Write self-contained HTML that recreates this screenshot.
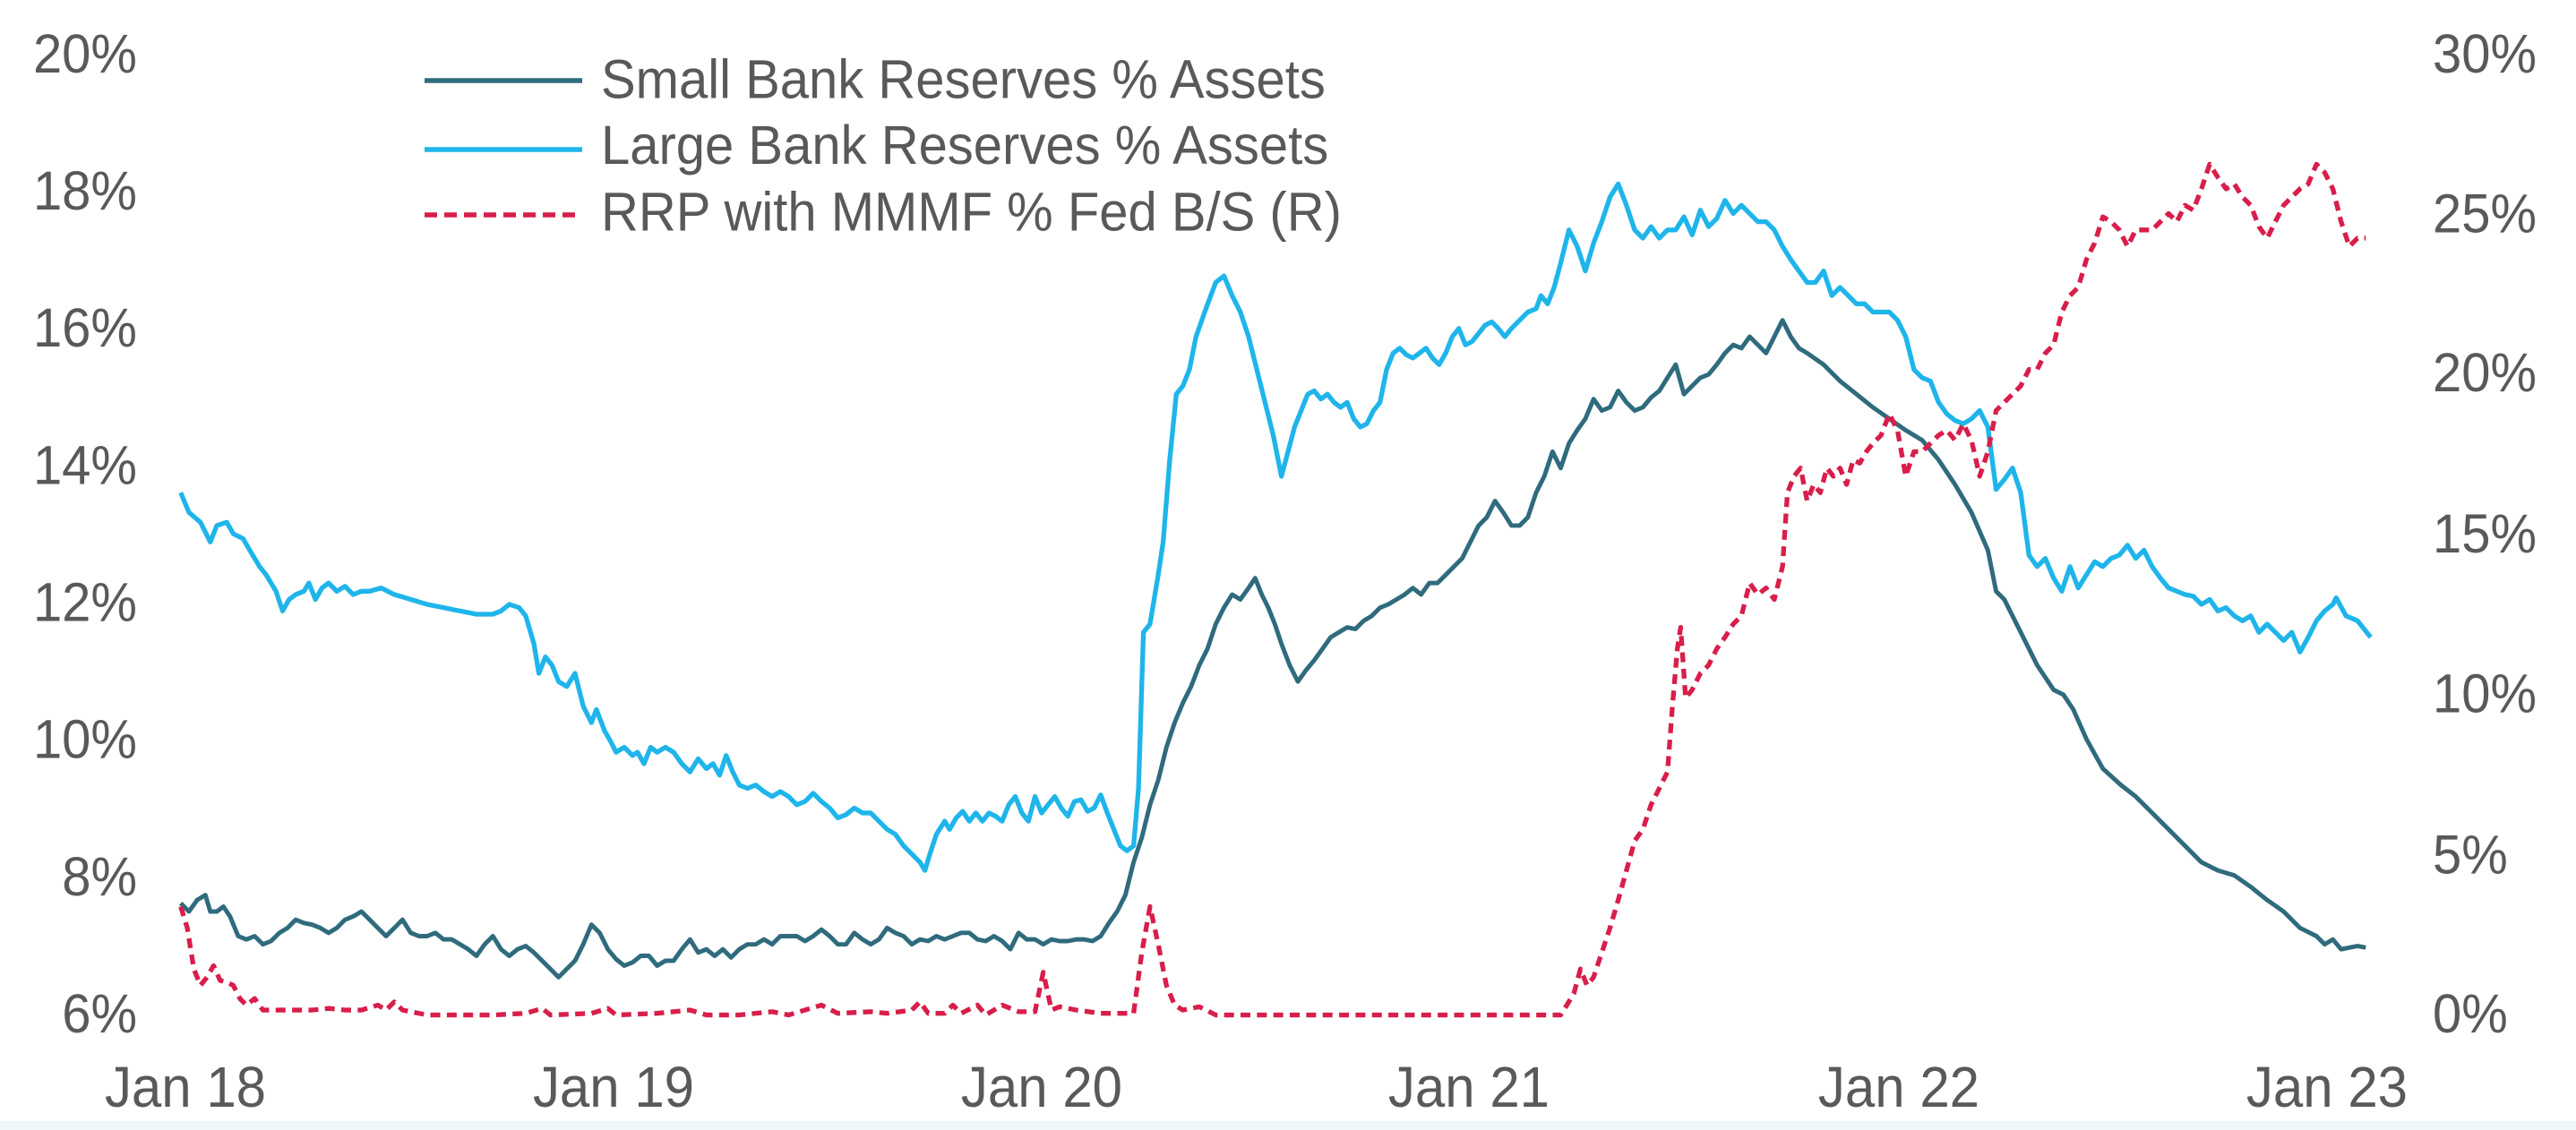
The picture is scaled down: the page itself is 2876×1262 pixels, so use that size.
<!DOCTYPE html>
<html><head><meta charset="utf-8"><style>
html,body{margin:0;padding:0;background:#fff;}
body{width:2876px;height:1262px;overflow:hidden;position:relative;}
svg{position:absolute;left:0;top:0;}
text{font-family:"Liberation Sans",Arial,sans-serif;fill:#595959;}
</style></head><body>
<svg width="2876" height="1262" viewBox="0 0 2876 1262" xmlns="http://www.w3.org/2000/svg">
<rect x="0" y="1252" width="2876" height="10" fill="#eef8fb"/>
<g font-size="58" text-anchor="end">
<text x="153" y="81" transform="translate(0,-5) scale(1,1.06)">20%</text>
<text x="153" y="234" transform="translate(0,-14) scale(1,1.06)">18%</text>
<text x="153" y="387" transform="translate(0,-23) scale(1,1.06)">16%</text>
<text x="153" y="540" transform="translate(0,-32) scale(1,1.06)">14%</text>
<text x="153" y="693" transform="translate(0,-41) scale(1,1.06)">12%</text>
<text x="153" y="846" transform="translate(0,-50) scale(1,1.06)">10%</text>
<text x="153" y="999" transform="translate(0,-59) scale(1,1.06)">8%</text>
<text x="153" y="1152" transform="translate(0,-68) scale(1,1.06)">6%</text>
</g>
<g font-size="58">
<text x="2716" y="81" transform="translate(0,-5) scale(1,1.06)">30%</text>
<text x="2716" y="259" transform="translate(0,-15) scale(1,1.06)">25%</text>
<text x="2716" y="437" transform="translate(0,-26) scale(1,1.06)">20%</text>
<text x="2716" y="616" transform="translate(0,-36) scale(1,1.06)">15%</text>
<text x="2716" y="795" transform="translate(0,-47) scale(1,1.06)">10%</text>
<text x="2716" y="974" transform="translate(0,-57) scale(1,1.06)">5%</text>
<text x="2716" y="1152" transform="translate(0,-68) scale(1,1.06)">0%</text>
</g>
<g font-size="60" text-anchor="middle">
<text x="207" y="1235" transform="translate(0,-73) scale(1,1.06)">Jan 18</text>
<text x="685" y="1235" transform="translate(0,-73) scale(1,1.06)">Jan 19</text>
<text x="1163" y="1235" transform="translate(0,-73) scale(1,1.06)">Jan 20</text>
<text x="1640" y="1235" transform="translate(0,-73) scale(1,1.06)">Jan 21</text>
<text x="2120" y="1235" transform="translate(0,-73) scale(1,1.06)">Jan 22</text>
<text x="2598" y="1235" transform="translate(0,-73) scale(1,1.06)">Jan 23</text>
</g>
<g font-size="58">
<text x="671" y="109" transform="translate(0,-6) scale(1,1.06)">Small Bank Reserves % Assets</text>
<text x="671" y="183" transform="translate(0,-11) scale(1,1.06)">Large Bank Reserves % Assets</text>
<text x="671" y="257" transform="translate(0,-15) scale(1,1.06)">RRP with MMMF % Fed B/S (R)</text>
</g>
<line x1="474" y1="90" x2="650" y2="90" stroke="#2f6b7d" stroke-width="5.5"/>
<line x1="474" y1="167" x2="650" y2="167" stroke="#1fb5ea" stroke-width="5.5"/>
<line x1="474" y1="240" x2="650" y2="240" stroke="#d81e4a" stroke-width="5.5" stroke-dasharray="14 8"/>
<g transform="scale(1.8342)" fill="none" stroke-linejoin="round">
<polyline id="lb" stroke="#1fb5ea" stroke-width="2.9"/>
<polyline id="sb" stroke="#2f6b7d" stroke-width="2.7"/>
<polyline id="rr" stroke="#d81e4a" stroke-width="2.9" stroke-dasharray="6 4"/>
</g>
</svg>
<script>
var LB=[[110,300],[115,312],[122,318],[128,330],[132,320],[138,318],[142,325],[148,328],[152,335],[158,345],[162,350],[168,360],[172,372],[176,365],[180,362],[185,360],[188,355],[192,365],[196,358],[200,355],[205,360],[210,357],[215,362],[220,360],[225,360],[232,358],[240,362],[250,365],[260,368],[270,370],[280,372],[290,374],[300,374],[305,372],[310,368],[316,370],[320,375],[325,392],[328,410],[332,400],[336,405],[340,415],[345,418],[350,410],[355,430],[360,440],[363,432],[368,445],[372,452],[375,458],[380,455],[385,460],[388,458],[392,465],[396,455],[400,458],[405,455],[410,458],[415,465],[420,470],[425,462],[430,468],[434,465],[438,472],[442,460],[446,470],[450,478],[455,480],[460,478],[465,482],[470,485],[475,482],[480,485],[485,490],[490,488],[495,483],[500,488],[505,492],[510,498],[515,496],[520,492],[525,495],[530,495],[535,500],[540,505],[545,508],[550,515],[555,520],[560,525],[563,530],[566,520],[570,508],[575,500],[578,505],[582,498],[586,494],[590,500],[594,495],[598,500],[602,495],[606,497],[610,500],[614,490],[618,485],[622,495],[626,500],[630,485],[634,495],[638,490],[642,485],[646,492],[650,497],[654,488],[658,487],[662,494],[666,492],[670,484],[674,495],[678,505],[682,515],[686,518],[690,515],[693,480],[696,385],[700,380],[705,350],[708,330],[712,280],[716,240],[720,235],[724,225],[728,205],[734,188],[740,172],[745,168],[750,180],[755,190],[760,205],[765,225],[770,245],[775,265],[780,290],[784,275],[788,260],[792,250],[796,240],[800,238],[804,243],[808,240],[812,245],[816,248],[820,245],[824,255],[828,260],[832,258],[836,250],[840,245],[844,225],[848,215],[852,212],[856,216],[860,218],[864,215],[868,212],[872,218],[876,222],[880,215],[884,205],[888,200],[892,210],[896,208],[900,203],[904,198],[908,196],[912,200],[916,205],[920,200],[925,195],[930,190],[935,188],[938,180],[942,185],[946,175],[950,160],[955,140],[960,150],[965,165],[970,148],[975,135],[980,120],[985,112],[990,125],[995,140],[1000,145],[1005,138],[1010,145],[1015,140],[1020,140],[1025,132],[1030,143],[1035,128],[1040,138],[1045,133],[1050,122],[1055,130],[1060,125],[1065,130],[1070,135],[1075,135],[1080,140],[1085,150],[1090,158],[1095,165],[1100,172],[1105,172],[1110,165],[1115,180],[1120,175],[1125,180],[1130,185],[1135,185],[1140,190],[1150,190],[1155,195],[1160,205],[1165,225],[1170,230],[1175,232],[1180,245],[1185,252],[1190,256],[1195,258],[1200,255],[1205,250],[1210,260],[1215,298],[1220,292],[1225,285],[1230,300],[1235,338],[1240,345],[1245,340],[1250,352],[1255,360],[1260,345],[1265,358],[1270,350],[1275,342],[1280,345],[1285,340],[1290,338],[1295,332],[1300,340],[1305,335],[1310,345],[1315,352],[1320,358],[1325,360],[1330,362],[1335,363],[1340,368],[1345,365],[1350,372],[1355,370],[1360,375],[1365,378],[1370,375],[1375,385],[1380,380],[1385,385],[1390,390],[1395,385],[1400,397],[1405,388],[1410,378],[1415,372],[1420,368],[1422,364],[1428,375],[1435,378],[1443,388]];
var SB=[[110,550],[115,555],[120,548],[125,545],[128,555],[132,555],[136,552],[140,558],[145,570],[150,572],[155,570],[160,575],[165,573],[170,568],[175,565],[180,560],[185,562],[190,563],[195,565],[200,568],[205,565],[210,560],[215,558],[220,555],[225,560],[230,565],[235,570],[240,565],[245,560],[250,568],[255,570],[260,570],[265,568],[270,572],[275,572],[280,575],[285,578],[290,582],[295,575],[300,570],[305,578],[310,582],[315,578],[320,576],[325,580],[330,585],[335,590],[340,595],[345,590],[350,585],[355,575],[360,563],[365,568],[370,578],[375,584],[380,588],[385,586],[390,582],[395,582],[400,588],[405,585],[410,585],[415,578],[420,572],[425,580],[430,578],[435,582],[440,578],[445,583],[450,578],[455,575],[460,575],[465,572],[470,575],[475,570],[480,570],[485,570],[490,573],[495,570],[500,566],[505,570],[510,575],[515,575],[520,568],[525,572],[530,575],[535,572],[540,565],[545,568],[550,570],[555,575],[560,572],[565,573],[570,570],[575,572],[580,570],[585,568],[590,568],[595,572],[600,573],[605,570],[610,573],[615,578],[620,568],[625,572],[630,572],[635,575],[640,572],[645,573],[650,573],[655,572],[660,572],[665,573],[670,570],[675,562],[680,555],[685,545],[690,525],[695,510],[700,490],[705,475],[710,455],[715,440],[720,428],[725,418],[730,405],[735,395],[740,380],[745,370],[750,362],[755,365],[760,358],[764,352],[768,362],[772,370],[776,380],[780,392],[785,405],[790,415],[795,408],[800,402],[805,395],[810,388],[815,385],[820,382],[825,383],[830,378],[835,375],[840,370],[845,368],[850,365],[855,362],[860,358],[865,362],[870,355],[875,355],[880,350],[885,345],[890,340],[895,330],[900,320],[905,315],[910,305],[915,312],[920,320],[925,320],[930,315],[935,300],[940,290],[945,275],[950,285],[955,270],[960,262],[965,255],[970,243],[975,250],[980,248],[985,238],[990,245],[995,250],[1000,248],[1005,242],[1010,238],[1015,230],[1020,222],[1025,240],[1030,235],[1035,230],[1040,228],[1045,222],[1050,215],[1055,210],[1060,212],[1065,205],[1070,210],[1075,215],[1080,205],[1085,195],[1090,205],[1095,212],[1100,215],[1110,222],[1120,232],[1130,240],[1140,248],[1150,255],[1160,262],[1170,268],[1180,280],[1190,295],[1200,312],[1210,335],[1215,360],[1220,365],[1230,385],[1240,405],[1250,420],[1256,423],[1262,432],[1270,450],[1280,468],[1291,478],[1300,485],[1310,495],[1320,505],[1330,515],[1340,525],[1350,530],[1360,533],[1370,540],[1380,548],[1390,555],[1400,565],[1410,570],[1415,575],[1420,572],[1425,578],[1430,577],[1435,576],[1440,577]];
var RR=[[110,552],[114,565],[118,590],[122,600],[126,595],[130,588],[134,597],[138,598],[142,600],[146,608],[150,612],[155,608],[160,615],[170,615],[180,615],[190,615],[200,614],[210,615],[220,615],[230,612],[235,615],[240,610],[245,615],[260,618],[280,618],[300,618],[320,617],[330,614],[335,618],[360,617],[370,614],[375,618],[400,617],[420,615],[430,618],[450,618],[470,616],[480,618],[500,612],[510,617],[530,616],[540,617],[555,615],[560,610],[565,617],[575,617],[580,612],[585,617],[595,612],[600,618],[610,612],[620,616],[630,616],[635,592],[640,615],[645,613],[655,615],[670,617],[680,617],[690,617],[695,580],[700,552],[705,575],[710,600],[715,612],[720,615],[730,613],[740,618],[800,618],[900,618],[950,618],[958,605],[962,590],[966,600],[970,595],[975,580],[980,565],[985,548],[990,530],[995,512],[1000,505],[1005,490],[1010,480],[1015,470],[1018,430],[1021,395],[1023,382],[1026,425],[1030,420],[1035,410],[1040,405],[1045,395],[1050,388],[1055,380],[1060,375],[1065,355],[1070,362],[1075,358],[1080,365],[1085,345],[1088,300],[1092,290],[1096,285],[1100,305],[1104,295],[1108,300],[1112,285],[1116,290],[1120,285],[1124,295],[1128,280],[1132,282],[1136,275],[1140,270],[1145,265],[1150,252],[1155,262],[1160,290],[1165,275],[1170,275],[1175,270],[1180,265],[1185,262],[1190,268],[1195,258],[1200,268],[1205,290],[1210,275],[1215,250],[1220,245],[1225,240],[1230,235],[1235,225],[1240,225],[1245,215],[1250,210],[1255,190],[1260,180],[1265,175],[1270,158],[1275,148],[1280,132],[1285,135],[1290,140],[1295,150],[1300,140],[1305,140],[1310,140],[1315,135],[1320,130],[1325,135],[1330,125],[1335,128],[1340,115],[1345,100],[1350,108],[1355,115],[1360,112],[1365,120],[1370,125],[1375,138],[1380,145],[1385,135],[1390,125],[1395,120],[1400,115],[1405,112],[1410,100],[1415,105],[1420,115],[1425,135],[1430,150],[1435,145],[1440,145]];
function s(a){return a.map(function(p){return p[0]+','+p[1];}).join(' ');}
document.getElementById('lb').setAttribute('points',s(LB));
document.getElementById('sb').setAttribute('points',s(SB));
document.getElementById('rr').setAttribute('points',s(RR));
</script>
</body></html>
